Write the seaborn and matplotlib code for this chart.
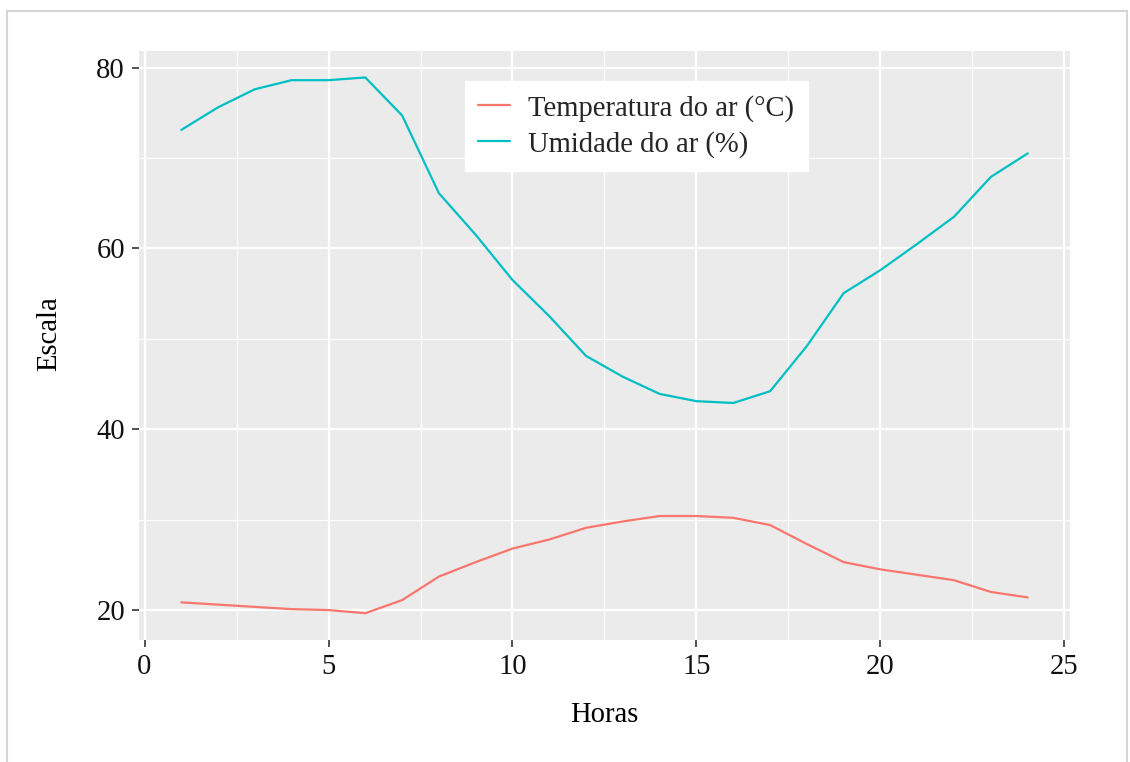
import matplotlib
matplotlib.use("Agg")
import matplotlib.pyplot as plt
from matplotlib.patches import Rectangle
from matplotlib.ticker import MultipleLocator
import numpy as np
import pandas as pd
import seaborn as sns

# Hourly readings
horas = list(range(1, 25))
temperatura = [20.85, 20.6, 20.35, 20.1, 20.0, 19.65, 21.1, 23.7, 25.3, 26.8,
               27.8, 29.1, 29.8, 30.4, 30.4, 30.2, 29.4, 27.3, 25.3, 24.5,
               23.9, 23.3, 22.0, 21.4]
umidade = [73.1, 75.6, 77.6, 78.6, 78.6, 78.9, 74.7, 66.1, 61.5, 56.5,
           52.5, 48.1, 45.8, 43.9, 43.1, 42.9, 44.2, 49.2, 55.05, 57.6,
           60.5, 63.5, 67.9, 70.5]
series_names = ["Temperatura do ar (°C)", "Umidade do ar (%)"]
series_colors = ["#F8766D", "#00BFC4"]

df = pd.DataFrame({
    "Horas": horas * 2,
    "Escala": temperatura + umidade,
    "Variável": [series_names[0]] * len(horas) + [series_names[1]] * len(horas),
})

sns.set_theme(style="darkgrid", rc={
    "axes.facecolor": "#EBEBEB",
    "grid.color": "white",
    "axes.edgecolor": "#EBEBEB",
})
plt.rcParams["font.family"] = ["Liberation Serif", "DejaVu Serif"]

fs = 20.6
fig = plt.figure(figsize=(11.3, 7.62), dpi=100)
fig.patch.set_facecolor("white")
ax = fig.add_axes([0.1230, 0.1601, 0.8239, 0.7734])

sns.lineplot(data=df, x="Horas", y="Escala", hue="Variável",
             palette=dict(zip(series_names, series_colors)),
             linewidth=1.6, ax=ax)

# ggplot-style expansion around the data range
xmin, xmax = min(horas), max(horas)
xr = xmax - xmin
ax.set_xlim(xmin - 0.05 * xr, xmax + 0.05 * xr)
allv = temperatura + umidade
ymin, ymax = min(allv), max(allv)
yr = ymax - ymin
ax.set_ylim(ymin - 0.05 * yr, ymax + 0.05 * yr)

ax.xaxis.set_major_locator(MultipleLocator(5))
ax.xaxis.set_minor_locator(MultipleLocator(2.5))
ax.yaxis.set_major_locator(MultipleLocator(20))
ax.yaxis.set_minor_locator(MultipleLocator(10))
ax.grid(which="major", color="white", linewidth=1.6)
ax.grid(which="minor", color="white", linewidth=0.8)
for s in ax.spines.values():
    s.set_visible(False)

ax.tick_params(axis="both", which="major", length=5, width=1.2,
               color="#333333", labelsize=fs, labelcolor="#111111", pad=5,
               bottom=True, left=True)
ax.tick_params(axis="both", which="minor", length=0)

ax.set_xlabel("Horas", fontsize=fs, color="black", labelpad=16)
ax.set_ylabel("Escala", fontsize=fs, color="black")
ax.yaxis.set_label_coords(-0.083, 0.52)

leg = ax.legend(loc="upper left", bbox_to_anchor=(0.350, 0.948),
                borderaxespad=0, fontsize=fs, frameon=True, fancybox=False,
                handlelength=1.1, handletextpad=0.65, borderpad=0.47,
                labelspacing=0.32, title=None)
leg.get_frame().set_facecolor("white")
leg.get_frame().set_edgecolor("white")
leg.get_frame().set_alpha(1)
for line in leg.get_lines():
    line.set_linewidth(1.6)

# light outer frame around the figure
fig.patches.append(Rectangle((7 / 1130, -0.05), 1120 / 1130, 1.05 - 11 / 762,
                             transform=fig.transFigure, fill=False,
                             edgecolor="#d4d4d4", linewidth=1.5))

fig.savefig("out.png", dpi=100)
